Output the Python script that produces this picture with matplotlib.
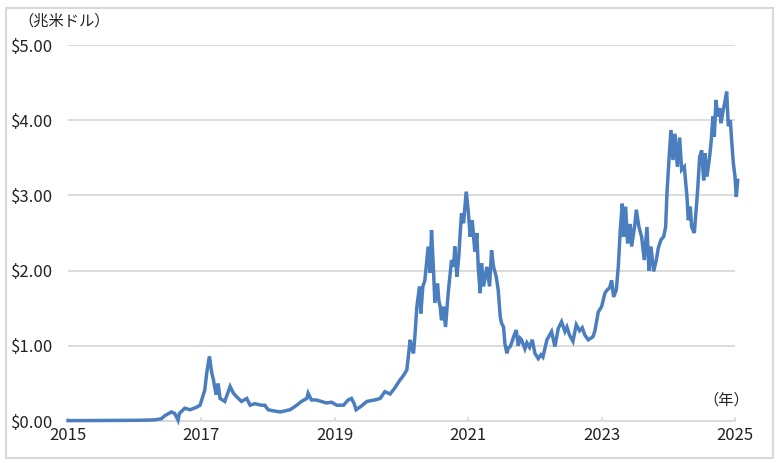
import numpy as np
import matplotlib
matplotlib.use("Agg")
import matplotlib.pyplot as plt
from matplotlib.patches import Rectangle

plt.rcParams['font.family'] = ['Noto Sans CJK JP', 'DejaVu Sans']

# time in fractional years, value in trillion USD
years = [
    2015.00, 2015.40, 2015.80, 2016.10, 2016.30, 2016.40, 2016.45, 2016.55, 2016.60, 2016.65,
    2016.67, 2016.75, 2016.83, 2016.92, 2016.98, 2017.05, 2017.08, 2017.12, 2017.155, 2017.18,
    2017.22, 2017.25, 2017.28, 2017.35, 2017.43, 2017.48, 2017.52, 2017.60, 2017.68, 2017.73,
    2017.80, 2017.90, 2017.95, 2018.00, 2018.05, 2018.18, 2018.33, 2018.43, 2018.50, 2018.58,
    2018.60, 2018.65, 2018.72, 2018.80, 2018.87, 2018.95, 2019.03, 2019.13, 2019.20, 2019.25,
    2019.29, 2019.32, 2019.40, 2019.48, 2019.60, 2019.68, 2019.75, 2019.83, 2019.90, 2019.98,
    2020.00, 2020.04, 2020.08, 2020.13, 2020.16, 2020.18, 2020.20, 2020.23, 2020.27, 2020.29,
    2020.32, 2020.35, 2020.38, 2020.40, 2020.43, 2020.45, 2020.48, 2020.50, 2020.54, 2020.56,
    2020.58, 2020.60, 2020.63, 2020.66, 2020.70, 2020.75, 2020.78, 2020.80, 2020.83, 2020.86,
    2020.88, 2020.90, 2020.93, 2020.97, 2021.00, 2021.03, 2021.06, 2021.10, 2021.13, 2021.15,
    2021.18, 2021.20, 2021.23, 2021.28, 2021.32, 2021.35, 2021.38, 2021.42, 2021.45, 2021.48,
    2021.50, 2021.53, 2021.55, 2021.58, 2021.60, 2021.63, 2021.66, 2021.68, 2021.72, 2021.75,
    2021.78, 2021.80, 2021.85, 2021.88, 2021.92, 2021.96, 2022.00, 2022.05, 2022.09, 2022.12,
    2022.18, 2022.25, 2022.30, 2022.35, 2022.40, 2022.45, 2022.48, 2022.52, 2022.57, 2022.62,
    2022.67, 2022.71, 2022.75, 2022.80, 2022.87, 2022.90, 2022.95, 2023.00, 2023.05, 2023.08,
    2023.12, 2023.15, 2023.18, 2023.22, 2023.25, 2023.28, 2023.31, 2023.33, 2023.36, 2023.39,
    2023.43, 2023.45, 2023.50, 2023.52, 2023.56, 2023.60, 2023.64, 2023.68, 2023.71, 2023.74,
    2023.78, 2023.82, 2023.85, 2023.89, 2023.93, 2023.96, 2023.98, 2024.01, 2024.04, 2024.07,
    2024.10, 2024.136, 2024.17, 2024.20, 2024.24, 2024.28, 2024.30, 2024.33, 2024.35, 2024.39,
    2024.42, 2024.44, 2024.47, 2024.50, 2024.53, 2024.55, 2024.58, 2024.62, 2024.64, 2024.67,
    2024.69, 2024.715, 2024.74, 2024.77, 2024.79, 2024.82, 2024.85, 2024.875, 2024.90, 2024.93,
    2024.95, 2024.975, 2025.00, 2025.02, 2025.04,
]
values = [
    0.005, 0.006, 0.008, 0.010, 0.015, 0.03, 0.07, 0.12, 0.10, 0.01,
    0.10, 0.17, 0.15, 0.18, 0.21, 0.41, 0.64, 0.86, 0.64, 0.55,
    0.35, 0.50, 0.30, 0.26, 0.46, 0.37, 0.33, 0.26, 0.30, 0.21,
    0.23, 0.21, 0.21, 0.15, 0.14, 0.12, 0.15, 0.21, 0.26, 0.30,
    0.37, 0.28, 0.28, 0.26, 0.24, 0.25, 0.21, 0.21, 0.28, 0.30,
    0.23, 0.15, 0.20, 0.26, 0.28, 0.30, 0.39, 0.36, 0.44, 0.55,
    0.57, 0.62, 0.68, 1.08, 0.95, 0.90, 1.12, 1.52, 1.79, 1.43,
    1.79, 1.87, 2.14, 2.32, 1.97, 2.54, 2.00, 1.57, 1.83, 1.60,
    1.52, 1.34, 1.52, 1.25, 1.70, 2.14, 2.05, 2.32, 1.92, 2.20,
    2.50, 2.76, 2.63, 3.05, 2.80, 2.45, 2.67, 2.25, 2.50, 2.05,
    1.70, 2.10, 1.79, 2.05, 1.79, 2.27, 2.05, 1.92, 1.74, 1.39,
    1.30, 1.25, 1.03, 0.90, 0.97, 0.99, 1.06, 1.12, 1.21, 1.00,
    1.10, 1.08, 0.96, 1.04, 0.98, 1.08, 0.90, 0.83, 0.88, 0.85,
    1.08, 1.19, 0.99, 1.23, 1.32, 1.19, 1.25, 1.14, 1.06, 1.28,
    1.20, 1.24, 1.14, 1.08, 1.12, 1.20, 1.45, 1.52, 1.70, 1.74,
    1.77, 1.87, 1.65, 1.74, 2.05, 2.54, 2.89, 2.45, 2.85, 2.36,
    2.62, 2.32, 2.62, 2.81, 2.58, 2.45, 2.14, 2.58, 2.00, 2.32,
    1.99, 2.14, 2.30, 2.41, 2.45, 2.58, 3.03, 3.47, 3.87, 3.47,
    3.82, 3.38, 3.77, 3.34, 3.38, 2.98, 2.67, 2.85, 2.58, 2.50,
    2.85, 3.07, 3.51, 3.60, 3.20, 3.56, 3.25, 3.52, 3.69, 4.05,
    3.78, 4.27, 4.05, 4.16, 3.96, 4.12, 4.25, 4.38, 3.92, 4.00,
    3.73, 3.43, 3.25, 2.98, 3.20,
]

xticks = [2015, 2017, 2019, 2021, 2023, 2025]
yticks = [0, 1, 2, 3, 4, 5]

fig = plt.figure(figsize=(7.8, 4.63), dpi=100)
ax = fig.add_axes([0.0872, 0.0907, 0.8551, 0.8121])

grid_c = '#d9d9d9'
ax.plot(years, values, color='#4A7EBF', lw=2.5, clip_on=False, zorder=3,
        solid_joinstyle='miter')

ax.set_xlim(2015, 2025)
ax.set_ylim(0, 5)
ax.set_xticks(xticks)
ax.set_xticklabels([str(t) for t in xticks])
ax.set_yticks(yticks)
ax.set_yticklabels(['${:.2f}'.format(v) for v in yticks])
ax.yaxis.grid(True, color=grid_c, lw=1.3)
ax.set_axisbelow(True)

for s in ['top', 'right', 'left']:
    ax.spines[s].set_visible(False)
ax.spines['bottom'].set_color(grid_c)
ax.spines['bottom'].set_linewidth(1.3)

ax.tick_params(axis='y', length=0, pad=11, labelsize=12, labelcolor='#222222')
ax.tick_params(axis='x', direction='in', length=3, color=grid_c, width=1.2,
               pad=4, labelsize=12, labelcolor='#222222')

fig.text(0.023, 0.955, '（兆米ドル）', fontsize=11, color='#222222', va='center')
fig.text(0.960, 0.137, '（年）', fontsize=11, color='#222222', va='center', ha='right')

fig.patches.append(Rectangle((0.008, 0.011), 0.983, 0.972, transform=fig.transFigure,
                             fill=False, edgecolor=grid_c, lw=1.5))

fig.savefig('out.png', dpi=100)
